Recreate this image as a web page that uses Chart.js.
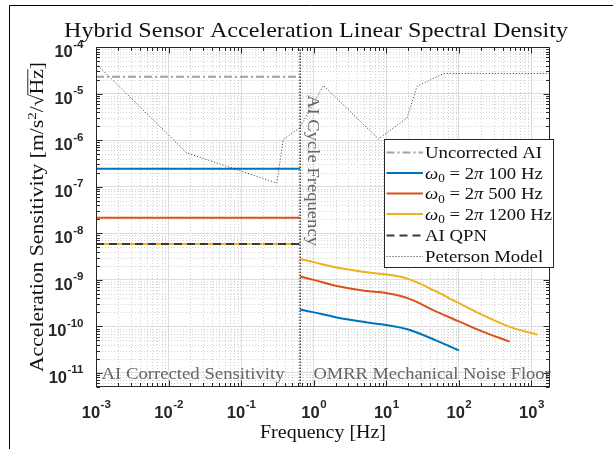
<!DOCTYPE html>
<html><head><meta charset="utf-8">
<script src="https://cdn.jsdelivr.net/npm/chart.js@4.4.1/dist/chart.umd.min.js"></script>
<style>html,body{margin:0;padding:0;background:#fff;overflow:hidden}canvas{display:block}</style>
</head><body>
<canvas id="c" width="613" height="449"></canvas>
<script>
// ---------------- data ----------------
const xTickExps = [-3, -2, -1, 0, 1, 2, 3];
const yTickExps = [-11, -10, -9, -8, -7, -6, -5, -4];
const xRange = [1e-3, 1800];
const yRange = [5e-12, 1e-4];
const cycleFrequency = 0.65;

const lowBandFreq = [1e-3, 0.65];
const uncorrectedAI = [2.3e-5, 2.3e-5];
const w100Low = [2.43e-7, 2.43e-7];
const w500Low = [2.15e-8, 2.15e-8];
const w1200Low = [5.9e-9, 5.9e-9];
const aiQPN = [5.9e-9, 5.9e-9];

const highBandFreq = [0.65, 1, 2, 5, 10, 20, 50, 100, 200, 500, 1000, 1200];
const w100High = [2.3e-10, 2.0e-10, 1.58e-10, 1.24e-10, 1.07e-10, 8.6e-11, 4.9e-11, 3.05e-11];
const w500High = [1.18e-9, 1.0e-9, 7.5e-10, 5.85e-10, 5.2e-10, 4.0e-10, 2.05e-10, 1.28e-10, 8.0e-11, 4.7e-11];
const w1200High = [2.8e-9, 2.4e-9, 1.86e-9, 1.47e-9, 1.30e-9, 1.05e-9, 5.5e-10, 3.16e-10, 1.84e-10, 9.8e-11, 7.2e-11, 6.6e-11];

const petersonFreq = [0.001, 0.0178, 0.31, 0.38, 0.64, 1.36, 7.8, 19.3, 26.5, 61.7, 1800];
const petersonVal = [4.4e-5, 5.3e-7, 1.2e-7, 1.03e-6, 1.83e-6, 1.49e-5, 1.06e-6, 3.0e-6, 1.43e-5, 2.7e-5, 2.7e-5];

const cycleLineY = [5e-12, 1e-4];

const legendLabels = ['Uncorrected AI', 'w100', 'w500', 'w1200', 'AI QPN', 'Peterson Model'];
const omegaValues = ['100', '500', '1200'];

// ---------------- styles ----------------
const BLUE = '#0072BD', ORANGE = '#D95319', YELLOW = '#EDB120';
const GRAYAI = '#a3a3a3', QPN = '#3a3a3a', DARK = '#262626';
const serif = '"Liberation Serif", "Times New Roman", serif';
const sans = '"Liberation Sans", Arial, sans-serif';

function pts(xs, ys) { return ys.map((y, i) => ({ x: xs[i], y })); }

const styles = {
  unc: { color: GRAYAI, width: 2, dash: [8, 3, 2, 3] },
  w100: { color: BLUE, width: 2, dash: [] },
  w500: { color: ORANGE, width: 2, dash: [] },
  w1200: { color: YELLOW, width: 2, dash: [] },
  qpn: { color: QPN, width: 2, dash: [8, 5] },
  pet: { color: '#333333', width: 1, dash: [1, 2] },
  cyc: { color: '#3c3c3c', width: 1.5, dash: [1.5, 1.5] }
};

function ds(data, st, order, smooth) {
  return {
    data, borderColor: st.color, borderWidth: st.width, borderDash: st.dash,
    pointRadius: 0, fill: false, order, tension: smooth ? 0.4 : 0
  };
}

const datasets = [
  ds(pts(lowBandFreq, uncorrectedAI), styles.unc, 9),
  ds(pts(lowBandFreq, w100Low), styles.w100, 8),
  ds(pts(highBandFreq, w100High), styles.w100, 8, true),
  ds(pts(lowBandFreq, w500Low), styles.w500, 7),
  ds(pts(highBandFreq, w500High), styles.w500, 7, true),
  ds(pts(lowBandFreq, w1200Low), styles.w1200, 6),
  ds(pts(highBandFreq, w1200High), styles.w1200, 6, true),
  ds(pts(lowBandFreq, aiQPN), styles.qpn, 5),
  ds(pts(petersonFreq, petersonVal), styles.pet, 4),
  ds(pts([cycleFrequency, cycleFrequency], cycleLineY), styles.cyc, 3)
];

// ---------------- text helpers ----------------
function segFont(s, size) {
  const fs = (s.sub || s.sup) ? size * 0.7 : size;
  return (s.it ? 'italic ' : '') + fs + 'px ' + serif;
}
function segsWidth(ctx, segs, size) {
  let w = 0;
  for (const s of segs) { ctx.font = segFont(s, size); w += ctx.measureText(s.t).width; }
  return w;
}
function drawSegs(ctx, segs, x, y, size, sx, align, color) {
  const w = segsWidth(ctx, segs, size) * sx;
  const x0 = align === 'center' ? x - w / 2 : align === 'right' ? x - w : x;
  ctx.save();
  ctx.translate(x0, y); ctx.scale(sx, 1);
  ctx.textAlign = 'left'; ctx.textBaseline = 'alphabetic';
  ctx.fillStyle = color; ctx.strokeStyle = color;
  let cx = 0;
  for (const s of segs) {
    ctx.font = segFont(s, size);
    const dy = s.sub ? size * 0.22 : s.sup ? -size * 0.38 : 0;
    ctx.fillText(s.t, cx, dy);
    const ww = ctx.measureText(s.t).width;
    if (s.over) {
      ctx.lineWidth = 0.9; ctx.setLineDash([]);
      ctx.beginPath(); ctx.moveTo(cx - 0.5, -size * 0.80); ctx.lineTo(cx + ww, -size * 0.80); ctx.stroke();
    }
    cx += ww;
  }
  ctx.restore();
  return w;
}
function fitSx(ctx, text, size, target) {
  ctx.font = size + 'px ' + serif;
  return target / ctx.measureText(text).width;
}
function drawPow(ctx, exp, x, tickY, mode) {
  const base = '10', sup = String(exp);
  ctx.save();
  ctx.fillStyle = DARK; ctx.textBaseline = 'alphabetic'; ctx.textAlign = 'left';
  ctx.font = 'bold 16.5px ' + sans; const w1 = ctx.measureText(base).width;
  ctx.font = 'bold 11.5px ' + sans; const w2 = ctx.measureText(sup).width;
  let x0, by, ey;
  if (mode === 'x') { x0 = x - (w1 + w2) / 2; by = 418; ey = 408; }
  else { x0 = x - (w1 + w2); by = tickY + 10; ey = tickY + 0.5; }
  ctx.font = 'bold 16.5px ' + sans; ctx.fillText(base, x0, by);
  ctx.font = 'bold 11.5px ' + sans; ctx.fillText(sup, x0 + w1 + 0.5, ey);
  ctx.restore();
}

function line(ctx, x1, y1, x2, y2) { ctx.beginPath(); ctx.moveTo(x1, y1); ctx.lineTo(x2, y2); ctx.stroke(); }

// ---------------- decoration plugin ----------------
const deco = {
  id: 'deco',
  beforeDatasetsDraw(chart) {
    const { ctx, chartArea: a, scales: { x, y } } = chart;
    ctx.save();
    ctx.beginPath(); ctx.rect(a.left, a.top, a.right - a.left, a.bottom - a.top); ctx.clip();
    ctx.strokeStyle = '#d2d2d2'; ctx.lineWidth = 1; ctx.setLineDash([1, 2]);
    for (let e = xTickExps[0]; e <= xTickExps[xTickExps.length - 1]; e++) {
      for (let k = 2; k <= 9; k++) {
        const v = k * Math.pow(10, e); if (v > xRange[1]) break;
        const px = Math.round(x.getPixelForValue(v)) + 0.5;
        line(ctx, px, a.top, px, a.bottom);
      }
    }
    for (let e = yTickExps[0] - 1; e < yTickExps[yTickExps.length - 1]; e++) {
      for (let k = 2; k <= 9; k++) {
        const v = k * Math.pow(10, e); if (v < yRange[0] || v > yRange[1]) continue;
        const py = Math.round(y.getPixelForValue(v)) + 0.5;
        line(ctx, a.left, py, a.right, py);
      }
    }
    ctx.restore();
  },
  afterDraw(chart) {
    const { ctx, chartArea: a, scales: { x, y } } = chart;
    ctx.save();
    // outer frame of figure
    ctx.strokeStyle = '#000'; ctx.lineWidth = 1; ctx.setLineDash([]);
    line(ctx, 9.5, 5.5, 9.5, 449); line(ctx, 9.5, 5.5, 613, 5.5);

    // annotations (under the axes box)
    const annCol = '#666666';
    const aSx = fitSx(ctx, 'AI Corrected Sensitivity', 17.5, 183);
    drawSegs(ctx, [{ t: 'AI Corrected Sensitivity' }], 101.5, 379, 17.5, aSx, 'left', annCol);
    drawSegs(ctx, [{ t: 'OMRR Mechanical Noise Floor' }], 313.5, 379, 17.5, aSx * 0.985, 'left', annCol);
    ctx.save();
    ctx.translate(308, 95); ctx.rotate(Math.PI / 2);
    drawSegs(ctx, [{ t: 'AI Cycle Frequency' }], 0, 0, 17.5, fitSx(ctx, 'AI Cycle Frequency', 17.5, 151), 'left', annCol);
    ctx.restore();

    // axes box and inner ticks
    ctx.strokeStyle = DARK; ctx.lineWidth = 1;
    const L = Math.round(a.left) + 0.5, R = Math.round(a.right) - 0.5, T = Math.round(a.top) + 0.5, B = Math.round(a.bottom) - 0.5;
    ctx.strokeRect(L, T, R - L, B - T);
    for (let e = xTickExps[0]; e <= xTickExps[xTickExps.length - 1]; e++) {
      for (let k = 1; k <= 9; k++) {
        const v = k * Math.pow(10, e); if (v > xRange[1]) break;
        const px = Math.round(x.getPixelForValue(v)) + 0.5; const len = k === 1 ? 6 : 3.5;
        line(ctx, px, B, px, B - len); line(ctx, px, T, px, T + len);
      }
    }
    for (let e = yTickExps[0] - 1; e <= yTickExps[yTickExps.length - 1]; e++) {
      for (let k = 1; k <= 9; k++) {
        const v = k * Math.pow(10, e); if (v < yRange[0] || v > yRange[1] * 1.0001) continue;
        const py = Math.round(y.getPixelForValue(v)) + 0.5; const len = k === 1 ? 6 : 3.5;
        line(ctx, L, py, L + len, py); line(ctx, R, py, R - len, py);
      }
    }
    // tick labels
    xTickExps.forEach(e => drawPow(ctx, e, x.getPixelForValue(Math.pow(10, e)), 0, 'x'));
    yTickExps.forEach(e => drawPow(ctx, e, 83, y.getPixelForValue(Math.pow(10, e)), 'y'));

    // title
    const tText = 'Hybrid Sensor Acceleration Linear Spectral Density';
    const tSx = fitSx(ctx, tText, 22, 504);
    drawSegs(ctx, [{ t: tText }], 316, 37, 22, tSx, 'center', '#111');

    // x title
    const xText = 'Frequency [Hz]';
    drawSegs(ctx, [{ t: xText }], (a.left + a.right) / 2, 438, 19, fitSx(ctx, xText, 19, 126), 'center', '#111');

    // y title (rotated)
    const ySegs = [{ t: 'Acceleration Sensitivity [m/s' }, { t: '2', sup: true }, { t: '/' }, { t: '\u221A' }, { t: 'Hz', over: true }, { t: ']' }];
    ctx.save();
    ctx.translate(43, (a.top + a.bottom) / 2); ctx.rotate(-Math.PI / 2);
    const ySx = 310 / segsWidth(ctx, ySegs, 19);
    drawSegs(ctx, ySegs, 0, 0, 19, ySx, 'center', '#111');
    ctx.restore();

    // legend
    const bx = 384.5, byy = 139.5, bw = 169, bh = 128;
    ctx.fillStyle = '#fff'; ctx.fillRect(bx, byy, bw, bh);
    ctx.strokeStyle = DARK; ctx.lineWidth = 1; ctx.setLineDash([]);
    ctx.strokeRect(bx, byy, bw, bh);
    const rows = [152, 172.5, 193, 213.5, 235, 256];
    const lSty = [styles.unc, styles.w100, styles.w500, styles.w1200, styles.qpn, styles.pet];
    const lSx = fitSx(ctx, legendLabels[0], 17.5, 117);
    rows.forEach((ry, i) => {
      const st = lSty[i];
      ctx.strokeStyle = st.color; ctx.lineWidth = st.width; ctx.setLineDash(st.dash);
      line(ctx, 386.5, ry + 0.5, 423, ry + 0.5);
      ctx.setLineDash([]);
      let segs;
      if (i >= 1 && i <= 3) {
        segs = [{ t: '\u03C9', it: true }, { t: '0', sub: true }, { t: ' = 2' }, { t: '\u03C0', it: true }, { t: ' ' + omegaValues[i - 1] + ' Hz' }];
      } else segs = [{ t: legendLabels[i] }];
      drawSegs(ctx, segs, 425, ry + 6, 17.5, lSx, 'left', '#111');
    });
    ctx.restore();
  }
};

new Chart(document.getElementById('c'), {
  type: 'line',
  data: { datasets },
  options: {
    responsive: false, animation: false, devicePixelRatio: 1,
    layout: { padding: { left: 96, top: 47, right: 63, bottom: 62 } },
    plugins: { legend: { display: false }, tooltip: { enabled: false }, title: { display: false } },
    elements: { point: { radius: 0 } },
    scales: {
      x: {
        type: 'logarithmic', min: xRange[0], max: xRange[1],
        afterBuildTicks: s => { s.ticks = xTickExps.map(e => ({ value: Math.pow(10, e), major: true })); },
        ticks: { display: false }, grid: { color: '#dcdcdc', lineWidth: 1, drawTicks: false }, border: { display: false }
      },
      y: {
        type: 'logarithmic', min: yRange[0], max: yRange[1],
        afterBuildTicks: s => { s.ticks = yTickExps.map(e => ({ value: Math.pow(10, e), major: true })); },
        ticks: { display: false }, grid: { color: '#dcdcdc', lineWidth: 1, drawTicks: false }, border: { display: false }
      }
    }
  },
  plugins: [deco]
});
</script>
</body></html>
